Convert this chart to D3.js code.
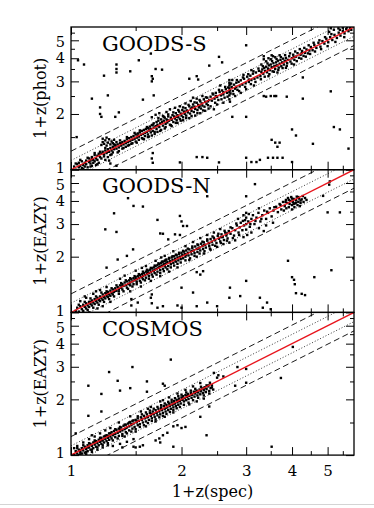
<!DOCTYPE html>
<head>
    <meta charset="utf-8">
    <script src="https://d3js.org/d3.v7.min.js"></script>
    <style>
        body { margin: 0; background: #fff; }
        text { font-family: "DejaVu Serif", serif; }
    </style>
</head>
<body>
<svg width="374" height="508"></svg>

<script>

    // axis ticks (1+z, log scale)
    var majorTicks = [1, 2, 3, 4, 5];
    var minorTicks = [1.5, 2.5, 3.5, 4.5, 5.5];

    // reference lines: offsets in log10(1+z)
    var dottedOffsets = [0.05, -0.05];
    var dashedOffsets = [0.1, -0.1];

    // GOODS-S: [1+z(spec), 1+z(phot)]
    var goodsSBand = [
        [1.02,1.04],[1.03,1.0],[1.04,1.07],[1.05,1.03],[1.05,1.09],[1.06,1.05],[1.07,1.02],[1.07,1.11],[1.08,1.06],[1.09,1.09],[1.09,1.04],[1.10,1.12],[1.10,1.07],[1.11,1.03],[1.12,1.10],[1.12,1.15],[1.13,1.08],[1.13,1.12],[1.14,1.05],[1.14,1.17],[1.15,1.13],[1.15,1.09],[1.16,1.20],[1.16,1.11],[1.17,1.15],[1.17,1.06],[1.18,1.19],[1.18,1.13],[1.19,1.22],[1.19,1.09],[1.20,1.17],[1.20,1.25],
        [1.21,1.36],[1.22,1.41],[1.23,1.38],[1.24,1.44],[1.25,1.35],[1.26,1.40],[1.27,1.46],[1.28,1.37],[1.29,1.42],[1.30,1.39],[1.31,1.45],[1.32,1.36],[1.33,1.41],[1.22,1.47],[1.25,1.49],
        [1.21,1.15],[1.23,1.18],[1.24,1.13],[1.26,1.17],[1.28,1.20],[1.27,1.12],[1.28,1.08],[1.33,1.05],
        [1.21,1.22],[1.22,1.25],[1.23,1.21],[1.24,1.27],[1.25,1.23],[1.26,1.29],[1.27,1.25],[1.28,1.31],[1.29,1.27],[1.30,1.24],[1.30,1.33],[1.31,1.29],[1.32,1.35],[1.33,1.30],[1.34,1.37],[1.35,1.32],[1.35,1.26],[1.36,1.39],[1.37,1.35],[1.38,1.41],[1.38,1.30],[1.39,1.37],[1.40,1.43],[1.41,1.39],[1.41,1.33],[1.42,1.46],[1.43,1.41],[1.44,1.48],[1.44,1.36],[1.45,1.43],[1.46,1.50],[1.47,1.45],[1.47,1.39],[1.48,1.52],[1.49,1.47],[1.50,1.55],[1.50,1.42],[1.51,1.49],[1.52,1.57],[1.53,1.51],[1.53,1.45],[1.54,1.59],[1.55,1.54],[1.56,1.48],[1.56,1.62],[1.57,1.56],[1.58,1.64],[1.59,1.52],[1.59,1.58],[1.60,1.66],
        [1.61,1.60],[1.62,1.68],[1.62,1.55],[1.63,1.63],[1.64,1.71],[1.65,1.59],[1.65,1.66],[1.66,1.74],[1.67,1.62],[1.68,1.69],[1.68,1.78],[1.69,1.56],[1.70,1.72],[1.71,1.81],[1.71,1.66],[1.72,1.75],[1.73,1.84],[1.74,1.70],[1.75,1.78],[1.76,1.87],[1.76,1.64],[1.77,1.81],[1.78,1.73],[1.79,1.84],[1.80,1.91],[1.81,1.77],[1.82,1.87],[1.83,1.80],[1.84,1.94],[1.85,1.84],[1.86,1.75],[1.87,1.91],[1.88,1.86],[1.89,1.97],[1.90,1.81],[1.91,1.94],[1.92,1.89],[1.93,2.02],[1.94,1.85],[1.95,1.97],[1.96,1.92],[1.97,2.06],[1.98,1.88],[1.99,2.01],[2.00,1.96],[2.01,2.10],[2.02,1.92],[2.03,2.05],[2.04,2.00],[2.05,2.15],[2.06,1.96],[2.07,2.09],[2.08,2.04],[2.10,2.20],[2.11,2.01],[2.12,2.14],[2.13,2.08],[2.15,2.25],[2.16,2.05],[2.17,2.19],[2.18,2.13],[2.20,2.30],[2.21,2.10],[2.22,2.24],[2.23,2.17],[2.25,2.34],[2.26,2.14],[2.27,2.28],[2.28,2.22],[2.30,2.40],[2.31,2.19],[2.32,2.33],[2.34,2.27],[2.35,2.45],[2.36,2.23],[2.38,2.38],
        [1.66,1.92],[1.70,1.98],[1.74,2.02],[1.78,1.95],[1.82,2.05],[1.86,2.12],[1.92,2.16],[1.98,2.20],[2.05,2.28],[2.12,2.35],[2.20,2.42],[2.28,2.50],[2.15,2.45],
        [1.58,1.46],[1.62,1.50],[1.66,1.53],[1.72,1.60],[1.80,1.67],[1.88,1.72],[1.95,1.79],[2.02,1.85],[2.10,1.90],[2.18,1.96],[2.25,2.02],[2.32,2.08],[2.40,2.20],[2.45,2.12],
        [2.40,2.48],[2.42,2.36],[2.44,2.55],[2.46,2.42],[2.48,2.60],[2.50,2.47],[2.52,2.38],[2.54,2.63],[2.56,2.52],[2.58,2.68],[2.60,2.55],[2.62,2.45],[2.64,2.72],[2.66,2.60],[2.68,2.78],[2.70,2.40],[2.70,2.52],[2.70,2.62],[2.70,2.75],[2.70,2.85],[2.70,2.95],[2.70,3.05],[2.71,2.33],[2.71,2.68],[2.71,2.90],[2.72,2.58],[2.74,2.80],[2.76,2.66],[2.78,2.88],[2.80,2.74],[2.82,2.95],[2.84,2.70],[2.86,2.98],[2.88,2.82],[2.90,3.04],[2.93,2.88],[2.96,3.10],[2.99,2.93],[3.02,3.18],[3.05,2.98],[3.08,3.22],[3.10,3.05],[3.13,3.30],[3.16,3.10],[3.19,3.35],[3.22,3.15],[3.25,3.42],[3.28,3.20],
        [2.60,2.30],[2.80,2.50],[3.00,2.72],[2.50,2.25],[2.90,2.60],[3.15,2.85],[2.55,2.85],[2.75,3.05],[2.95,3.25],[3.10,3.45],
        [3.30,3.38],[3.32,3.48],[3.34,3.30],[3.36,3.55],[3.38,3.42],[3.40,3.60],[3.42,3.36],[3.44,3.52],[3.46,3.66],[3.48,3.45],[3.50,3.70],[3.52,3.58],[3.54,3.40],[3.56,3.76],[3.58,3.62],[3.60,3.50],[3.62,3.80],[3.64,3.66],[3.66,3.88],[3.68,3.56],[3.70,3.74],[3.72,3.92],[3.74,3.62],[3.76,3.80],[3.78,3.98],[3.80,3.70],[3.82,3.86],[3.85,4.02],[3.88,3.76],[3.90,3.92],[3.93,4.10],[3.96,3.84],[4.00,4.00],[4.03,4.18],[4.06,3.92],[4.10,4.08],[4.14,4.26],[4.18,4.02],[4.22,4.18],[4.26,4.38],[4.30,4.12],[4.34,4.28],[4.38,4.46],[4.42,4.25],[4.46,4.40],
        [3.30,3.70],[3.40,3.85],[3.50,3.95],[3.60,4.05],[3.70,4.15],[3.45,3.20],[3.65,3.35],[3.85,3.55],[4.05,3.70],[3.55,4.10],[3.35,3.95],[3.35,4.1],[3.45,4.0],[3.52,4.15],
        [4.50,4.60],[4.55,4.42],[4.60,4.72],[4.66,4.55],[4.72,4.85],[4.78,4.62],[4.84,4.95],[4.90,4.80],[4.96,5.10],[5.02,4.88],[5.08,5.20],[5.15,5.02],[5.22,5.35],[5.30,5.15],[5.36,5.50],[5.42,5.30],[5.50,5.62],[5.56,5.45],[5.62,5.75],[5.70,5.60],[5.76,5.82],[5.80,5.70],
        [5.05,5.55],[5.20,5.70],[5.35,5.80],[5.50,5.85],[5.65,5.88],[5.10,5.82]
    ];
    var goodsSFill = [
        [1.03,1.08],[1.06,1.13],[1.08,1.01],[1.11,1.16],[1.13,1.04],[1.16,1.23],[1.18,1.07],[1.24,1.31],[1.29,1.21],[1.31,1.37],[1.34,1.24],[1.36,1.44],[1.39,1.31],[1.42,1.50],[1.43,1.35],[1.46,1.38],[1.49,1.58],[1.51,1.40],[1.54,1.63],[1.57,1.47],[1.61,1.70],[1.63,1.51],[1.67,1.75],[1.69,1.60],[1.73,1.90],[1.75,1.62],[1.79,1.93],[1.81,1.70],[1.84,1.99],[1.87,1.74],[1.90,2.04],[1.93,1.79],[1.96,2.10],[1.99,1.84],[2.02,2.17],[2.06,1.90],[2.09,2.24],[2.13,1.95],[2.17,2.31],[2.21,2.02],[2.24,2.38],[2.29,2.09],[2.33,2.46],[2.37,2.14],[2.43,2.58],[2.47,2.30],[2.53,2.70],[2.57,2.40],[2.63,2.80],[2.67,2.48],[2.73,2.92],[2.77,2.56],[2.83,3.05],[2.87,2.66],[2.94,3.15],[2.98,2.80],[3.04,3.28],[3.09,2.90],[3.14,3.40],[3.18,2.98],[3.24,3.52],[3.29,3.08],[3.33,3.62],[3.37,3.18],[3.43,3.75],[3.47,3.28],[3.53,3.86],[3.57,3.38],[3.63,3.96],[3.67,3.46],[3.73,4.06],[3.77,3.54],[3.83,4.16],[3.87,3.64],[3.95,4.25],[3.99,3.74],[4.08,4.35],[4.12,3.86],[4.20,4.48],[4.24,3.98],[4.32,4.55],[4.36,4.08],[4.44,4.70],[4.48,4.22],[4.58,4.85],[4.62,4.35],[4.75,5.00],[4.80,4.48],[4.92,5.20],[5.00,4.65],[5.12,5.40],[5.25,4.90],[5.40,5.70],[5.55,5.20],
        [1.52,1.53],[1.64,1.65],[1.72,1.72],[1.83,1.85],[1.94,1.93],[2.04,2.06],[2.14,2.17],[2.24,2.21],[2.36,2.34],[2.48,2.50],[2.60,2.62],[2.82,2.80],[3.05,3.07],[3.45,3.48],[3.62,3.64],[3.84,3.88],[4.04,4.06],[4.25,4.26],[1.37,1.38],[1.26,1.25],[1.14,1.14]
    ];
    var goodsSOut = [
        [1.045,3.9],[1.085,3.7],[1.23,3.22],[1.33,3.7],[1.33,3.5],[1.33,3.35],[1.45,3.4],[1.53,3.9],[1.65,4.24],[1.66,3.2],[1.67,3.1],[1.66,3.0],[1.70,3.5],[1.77,3.47],[1.14,2.42],[1.26,2.52],[1.2,2.17],[1.2,2.0],[1.21,1.93],[1.32,1.93],[1.35,2.04],[1.57,2.39],[1.68,2.52],[2.1,3.1],[2.2,3.2],[2.22,3.07],[2.38,3.65],[2.53,4.07],[2.58,3.8],[3.0,4.7],
        [1.036,1.5],[1.67,1.23],[1.66,1.15],[1.67,1.09],[2.2,1.17],[2.28,1.17],[2.35,1.16],[1.98,1.095],[2.53,1.095],[2.75,1.93],[3.0,1.93],[3.35,2.5],[3.4,2.48],[3.5,2.5],[3.58,2.5],[3.62,2.5],[3.87,2.48],[4.0,1.65],[4.1,1.53],[3.52,1.45],[3.6,1.4],[3.7,1.4],[3.65,1.33],[4.28,2.42],[4.28,3.15],[5.1,2.65],[5.2,1.7],[5.4,1.65],[5.7,1.3],[4.56,1.38],[3.55,1.16],[3.65,1.16],[3.77,1.16],[3.0,1.16],[3.1,1.1],[3.2,1.1],[3.27,1.13],[4.0,1.1],[3.44,1.16]
    ];

    // GOODS-N: [1+z(spec), 1+z(EAZY)]
    var goodsNBand = [
        [1.03,1.02],[1.04,1.06],[1.05,1.01],[1.06,1.08],[1.07,1.04],[1.08,1.10],[1.08,1.02],[1.09,1.07],[1.10,1.12],[1.10,1.05],[1.11,1.09],[1.12,1.14],[1.12,1.07],[1.13,1.11],[1.14,1.16],[1.14,1.09],[1.15,1.13],[1.16,1.18],[1.16,1.11],[1.17,1.15],[1.18,1.20],[1.18,1.13],[1.19,1.17],[1.20,1.22],[1.20,1.15],[1.21,1.19],[1.22,1.25],[1.22,1.17],[1.23,1.21],[1.24,1.27],[1.24,1.19],[1.25,1.23],[1.26,1.29],[1.26,1.21],[1.27,1.25],[1.28,1.31],[1.28,1.23],[1.29,1.27],[1.30,1.33],[1.30,1.25],
        [1.06,1.15],[1.10,1.20],[1.15,1.26],[1.20,1.32],[1.25,1.37],[1.12,1.00],[1.18,1.05],[1.22,1.08],[1.28,1.14],[1.09,1.22],[1.17,1.30],
        [1.31,1.29],[1.32,1.35],[1.33,1.31],[1.34,1.37],[1.35,1.30],[1.35,1.34],[1.36,1.40],[1.37,1.36],[1.38,1.42],[1.38,1.33],[1.39,1.39],[1.40,1.45],[1.41,1.40],[1.42,1.36],[1.42,1.47],[1.43,1.42],[1.44,1.49],[1.45,1.40],[1.45,1.45],[1.46,1.51],[1.47,1.47],[1.48,1.42],[1.48,1.53],[1.49,1.49],[1.50,1.55],[1.51,1.46],[1.51,1.51],[1.52,1.57],[1.53,1.53],[1.54,1.48],[1.54,1.59],[1.55,1.55],[1.56,1.61],[1.57,1.51],[1.57,1.57],[1.58,1.63],[1.59,1.59],[1.60,1.54],[1.60,1.66],[1.61,1.61],[1.62,1.68],[1.63,1.57],[1.63,1.63],[1.64,1.70],[1.65,1.65],[1.66,1.60],[1.66,1.73],[1.67,1.68],[1.68,1.75],[1.69,1.63],[1.69,1.70],[1.70,1.78],[1.71,1.72],[1.72,1.66],[1.72,1.80],[1.73,1.74],[1.74,1.83],[1.75,1.69],[1.75,1.77],[1.76,1.85],[1.77,1.79],[1.78,1.72],[1.78,1.88],[1.79,1.82],[1.80,1.90],[1.81,1.75],[1.81,1.84],[1.82,1.93],[1.83,1.87],[1.84,1.78],[1.85,1.95],[1.86,1.89],[1.87,1.82],[1.88,1.98],[1.89,1.92],[1.90,1.85],[1.91,2.01],[1.92,1.95],[1.93,1.88],[1.94,2.04],[1.95,1.98],[1.96,1.91],[1.97,2.07],[1.98,2.00],[1.99,1.94],[2.00,2.10],
        [1.40,1.58],[1.50,1.68],[1.60,1.78],[1.70,1.90],[1.80,2.02],[1.90,2.14],[1.45,1.30],[1.55,1.38],[1.65,1.48],[1.75,1.57],[1.85,1.66],[1.95,1.75],[1.36,1.52],[1.56,1.74],[1.76,1.98],
        [2.01,2.04],[2.02,1.96],[2.03,2.13],[2.04,2.07],[2.05,2.00],[2.06,2.16],[2.08,2.10],[2.09,2.03],[2.10,2.19],[2.12,2.13],[2.13,2.06],[2.14,2.23],[2.16,2.16],[2.17,2.09],[2.18,2.27],[2.20,2.20],[2.21,2.12],[2.22,2.31],[2.24,2.24],[2.25,2.16],[2.26,2.35],[2.28,2.28],[2.29,2.20],[2.30,2.39],[2.32,2.32],[2.33,2.24],[2.35,2.44],[2.37,2.36],[2.38,2.28],[2.40,2.49],[2.42,2.41],[2.43,2.32],[2.45,2.53],[2.47,2.45],[2.49,2.37],[2.51,2.59],[2.53,2.50],[2.55,2.42],[2.57,2.64],[2.59,2.55],[2.61,2.46],[2.63,2.70],[2.65,2.60],[2.67,2.51],[2.69,2.75],
        [2.05,2.28],[2.15,2.40],[2.25,2.52],[2.35,2.62],[2.45,2.70],[2.55,2.82],[2.10,1.92],[2.20,2.00],[2.30,2.08],[2.40,2.18],[2.50,2.26],[2.60,2.34],
        [2.72,2.66],[2.75,2.85],[2.78,2.60],[2.80,2.78],[2.83,2.95],[2.86,2.70],[2.88,2.88],[2.90,3.05],[2.93,2.78],[2.96,2.95],[2.98,3.15],[3.00,2.80],[3.00,3.00],[3.00,3.25],[3.00,3.45],[3.02,2.62],[3.04,3.10],[3.07,2.90],[3.10,3.20],[3.13,3.35],[3.16,3.00],[3.20,3.25],[3.24,3.45],[3.28,3.10],[3.32,3.35],[3.36,3.55],[3.40,3.20],[3.44,3.45],[3.48,3.65],[3.52,3.30],[3.56,3.55],
        [2.80,2.45],[2.95,2.55],[3.10,2.70],[3.25,2.85],[3.40,2.95],[2.70,2.38],[3.55,3.05],[3.35,2.75],[2.85,3.20],[3.05,3.40],[3.25,3.65],[2.95,3.35],
        [3.62,3.72],[3.66,3.48],[3.70,3.85],[3.74,3.60],[3.78,3.95],[3.80,3.55],[3.82,3.75],[3.85,4.05],[3.86,3.65],[3.88,3.90],[3.90,4.15],[3.92,3.70],[3.94,3.85],[3.96,4.00],[3.98,4.20],[4.00,3.60],[4.00,3.80],[4.02,3.95],[4.04,4.10],[4.06,3.70],[4.08,3.88],[4.10,4.05],[4.12,4.22],[4.14,3.80],[4.16,3.96],[4.18,4.12],[4.20,3.75],[4.22,3.90],[4.25,4.08],[4.28,4.25],[4.30,3.95],[4.34,4.15],[4.38,4.05]
    ];
    var goodsNFill = [
        [1.05,1.10],[1.09,1.14],[1.11,1.03],[1.13,1.19],[1.15,1.06],[1.17,1.22],[1.19,1.10],[1.21,1.28],[1.23,1.14],[1.25,1.30],[1.27,1.18],[1.29,1.35],[1.31,1.22],[1.33,1.40],[1.35,1.26],[1.37,1.44],[1.39,1.30],[1.41,1.49],[1.43,1.34],[1.45,1.53],[1.47,1.38],[1.49,1.57],[1.51,1.42],[1.53,1.61],[1.55,1.45],[1.57,1.66],[1.59,1.49],[1.61,1.70],[1.63,1.52],[1.65,1.74],[1.67,1.56],[1.69,1.79],[1.71,1.60],[1.73,1.84],[1.75,1.63],[1.77,1.88],[1.79,1.67],[1.81,1.92],[1.83,1.71],[1.85,1.97],[1.87,1.75],[1.89,2.01],[1.91,1.79],[1.93,2.05],[1.95,1.83],[1.97,2.10],[1.99,1.86],[2.02,2.15],[2.05,1.91],[2.08,2.21],[2.11,1.96],[2.14,2.27],[2.17,2.02],[2.21,2.33],[2.24,2.08],[2.28,2.41],[2.31,2.14],[2.35,2.48],[2.39,2.21],[2.43,2.57],[2.47,2.29],[2.52,2.66],[2.56,2.37],[2.62,2.76],[2.66,2.44],[2.72,2.88],[2.76,2.52],[2.82,3.02],[2.87,2.62],[2.94,3.12],[3.08,3.00],[3.18,3.12],[3.30,3.20],[3.42,3.50],[3.58,3.70],[3.72,3.80],[3.84,3.95],[3.92,4.05],[4.00,4.12],[4.04,3.85],[4.10,3.92],[4.16,4.20],[4.22,4.02],
        [1.13,1.14],[1.19,1.18],[1.25,1.26],[1.32,1.31],[1.38,1.39],[1.44,1.43],[1.50,1.51],[1.56,1.55],[1.62,1.63],[1.68,1.67],[1.74,1.75],[1.80,1.79],[1.86,1.87],[1.92,1.91],[1.98,1.99],[2.06,2.05],[2.14,2.15],[2.22,2.21],[2.30,2.31],[2.38,2.37],[2.46,2.47],[2.56,2.55],[2.66,2.67]
    ];
    var goodsNOut = [
        [1.31,3.43],[1.24,2.81],[1.33,2.72],[1.25,1.745],[1.34,1.93],[1.43,4.14],[1.48,3.76],[1.57,3.73],[1.476,2.19],[1.42,2.02],[1.72,3.16],[1.75,2.67],[1.78,2.66],[1.84,2.48],[1.98,3.32],[2.0,3.1],[2.02,2.93],[2.07,2.93],[1.92,2.64],[1.98,2.62],[2.35,4.24],[3.0,4.24],[3.17,4.93],[2.25,1.6],[2.29,1.67],[2.0,1.36],[2.15,1.28],[1.66,1.25],[1.65,1.2],[2.71,1.36],[2.89,1.225],[3.0,1.48],[3.27,1.2],[3.42,1.13],[3.9,1.9],[4.0,1.55],[4.05,1.5],[4.07,1.42],[4.1,1.27],[4.25,1.26],[4.34,1.24],[4.6,1.55],[5.12,1.69],[5.88,1.96],[5.0,3.47],[5.4,3.47],[5.07,5.1],[5.05,4.9],[4.86,4.26],[2.2,1.65],
        [1.46,1.18],[1.52,1.13],[1.46,1.09],[1.66,1.12],[1.72,1.06],[1.78,1.08],[1.95,1.09],[2.0,1.06],[2.2,1.08],[2.35,1.13],[2.5,1.08],[2.7,1.2],[3.33,1.06],[3.5,1.04]
    ];

    // COSMOS: [1+z(spec), 1+z(EAZY)]
    var cosmosBand = [
        [1.02,1.01],[1.03,1.05],[1.04,1.02],[1.05,1.07],[1.05,1.00],[1.06,1.04],[1.07,1.09],[1.07,1.02],[1.08,1.06],[1.09,1.11],[1.09,1.03],[1.10,1.08],[1.11,1.13],[1.11,1.05],[1.12,1.10],[1.13,1.15],[1.13,1.07],[1.14,1.12],[1.15,1.17],[1.15,1.09],[1.16,1.14],[1.17,1.19],[1.17,1.11],[1.18,1.16],[1.19,1.21],[1.19,1.13],[1.20,1.18],[1.21,1.24],[1.21,1.15],[1.22,1.20],[1.23,1.26],[1.23,1.17],[1.24,1.22],[1.25,1.28],[1.25,1.19],[1.26,1.24],[1.27,1.31],[1.27,1.21],[1.28,1.26],[1.29,1.33],[1.29,1.23],[1.30,1.28],
        [1.04,1.12],[1.08,1.17],[1.12,1.22],[1.16,1.26],[1.20,1.31],[1.24,1.36],[1.28,1.40],[1.10,1.01],[1.14,1.04],[1.18,1.07],[1.22,1.10],[1.26,1.13],[1.02,1.09],[1.14,1.28],
        [1.31,1.35],[1.32,1.25],[1.32,1.30],[1.33,1.37],[1.34,1.32],[1.35,1.27],[1.35,1.39],[1.36,1.34],[1.37,1.41],[1.38,1.30],[1.38,1.36],[1.39,1.44],[1.40,1.38],[1.41,1.33],[1.41,1.46],[1.42,1.41],[1.43,1.48],[1.44,1.36],[1.44,1.43],[1.45,1.51],[1.46,1.45],[1.47,1.39],[1.47,1.53],[1.48,1.48],[1.49,1.42],[1.50,1.55],[1.51,1.50],[1.52,1.45],[1.52,1.58],[1.53,1.53],[1.54,1.47],[1.55,1.60],[1.56,1.55],[1.57,1.50],[1.58,1.63],[1.59,1.58],[1.60,1.52],[1.61,1.66],[1.62,1.61],[1.63,1.55],[1.64,1.69],[1.65,1.63],[1.66,1.58],[1.67,1.72],[1.68,1.66],[1.69,1.61],[1.70,1.75],[1.71,1.69],[1.72,1.64],[1.73,1.78],[1.74,1.72],[1.75,1.66],[1.76,1.81],[1.77,1.75],[1.78,1.69],[1.79,1.84],[1.80,1.78],[1.81,1.72],[1.82,1.87],[1.83,1.81],[1.84,1.75],[1.85,1.90],[1.86,1.84],[1.87,1.78],[1.88,1.93],[1.89,1.87],[1.90,1.81],[1.91,1.96],[1.92,1.90],[1.93,1.84],[1.94,1.99],[1.95,1.93],[1.96,1.87],[1.97,2.02],[1.98,1.96],[1.99,1.90],[2.00,2.05],
        [1.35,1.50],[1.45,1.62],[1.55,1.72],[1.65,1.82],[1.75,1.95],[1.85,2.05],[1.95,2.15],[1.40,1.26],[1.50,1.34],[1.60,1.43],[1.70,1.52],[1.80,1.61],[1.90,1.70],[1.62,1.78],[1.78,1.98],
        [1.30,1.12],[1.36,1.15],[1.42,1.18],[1.48,1.22],[1.38,1.10],
        [2.01,1.99],[2.02,2.08],[2.03,1.95],[2.04,2.03],[2.05,2.11],[2.06,1.98],[2.07,2.06],[2.08,2.14],[2.09,2.01],[2.10,2.09],[2.12,2.17],[2.13,2.04],[2.14,2.12],[2.16,2.20],[2.17,2.07],[2.18,2.15],[2.20,2.23],[2.21,2.10],[2.22,2.18],[2.24,2.26],[2.25,2.13],[2.26,2.21],[2.28,2.29],[2.29,2.16],[2.30,2.24],[2.32,2.32],[2.33,2.19],[2.34,2.27],[2.36,2.35],[2.38,2.22],[2.40,2.30],[2.42,2.38],[2.44,2.26],
        [2.05,2.25],[2.15,2.35],[2.25,2.45],[2.10,1.88],[2.20,1.95],[2.30,2.02]
    ];
    var cosmosFill = [
        [1.04,1.09],[1.06,1.01],[1.08,1.13],[1.10,1.04],[1.12,1.16],[1.14,1.07],[1.16,1.20],[1.18,1.10],[1.20,1.24],[1.22,1.13],[1.24,1.27],[1.26,1.16],[1.28,1.31],[1.30,1.20],[1.32,1.38],[1.34,1.23],[1.36,1.42],[1.38,1.27],[1.40,1.46],[1.42,1.31],[1.44,1.50],[1.46,1.34],[1.48,1.54],[1.50,1.38],[1.52,1.62],[1.54,1.42],[1.56,1.66],[1.58,1.45],[1.60,1.70],[1.62,1.49],[1.64,1.74],[1.66,1.53],[1.68,1.78],[1.70,1.56],[1.72,1.82],[1.74,1.60],[1.76,1.86],[1.78,1.63],[1.80,1.90],[1.82,1.67],[1.84,1.94],[1.86,1.71],[1.88,1.99],[1.90,1.75],[1.92,2.03],[1.94,1.79],[1.96,2.08],[1.98,1.82],[2.00,2.12],[2.03,1.87],[2.06,2.18],[2.09,1.92],[2.12,2.23],[2.15,1.98],[2.18,2.28],[2.22,2.04],[2.26,2.34],[2.30,2.10],[2.34,2.38],[2.38,2.15],[2.42,2.32],
        [1.06,1.06],[1.11,1.10],[1.16,1.17],[1.21,1.20],[1.26,1.27],[1.31,1.30],[1.36,1.37],[1.41,1.40],[1.46,1.47],[1.51,1.52],[1.56,1.57],[1.61,1.60],[1.66,1.67],[1.71,1.70],[1.76,1.77],[1.81,1.80],[1.86,1.87],[1.91,1.90],[1.96,1.97],[2.01,2.02],[2.07,2.08],[2.13,2.12],[2.19,2.20],[2.25,2.24],[2.31,2.32],[2.37,2.38]
    ];
    var cosmosOut = [
        [1.115,2.37],[1.21,2.14],[1.115,1.63],[1.21,1.72],[1.27,2.81],[1.34,2.52],[1.36,2.23],[1.47,2.99],[1.45,2.3],[1.61,2.5],[1.61,2.2],[1.87,3.28],[1.78,2.43],[1.8,2.37],[1.03,1.31],[1.48,1.11],[1.5,1.1],[1.54,1.11],[1.57,1.13],[1.7,1.2],[1.74,1.23],[1.78,1.28],[1.83,1.32],[1.75,1.17],[1.9,1.11],[1.95,1.45],[2.0,1.4],[2.05,1.42],[1.9,1.43],[2.25,1.61],[2.34,1.28],[2.38,1.83],[2.45,2.78],[2.52,2.7],[2.6,2.66],[2.5,2.62],[2.84,2.99],[3.0,2.92],[2.8,2.37],[3.0,2.46],[3.73,2.61],[4.02,3.84],[3.52,1.11],[2.39,2.46]
    ];

    var panels = [
        {name: "GOODS-S", ytitle: "1+z(phot)", points: goodsSBand.concat(goodsSFill, goodsSOut)},
        {name: "GOODS-N", ytitle: "1+z(EAZY)", points: goodsNBand.concat(goodsNFill, goodsNOut)},
        {name: "COSMOS",  ytitle: "1+z(EAZY)", points: cosmosBand.concat(cosmosFill, cosmosOut)}
    ];

    var svg = d3.select("svg");
    var left = 71, right = 354, top0 = 27, ph = 142.7;
    var zmax = 5.9;

    var x = d3.scaleLog().domain([1, zmax]).range([left, right]);

    var line = function(y, k) {
        return d3.line()
            .x(function(d) { return x(d); })
            .y(function(d) { return y(d * k); })([1, zmax]);
    };

    panels.forEach(function(p, i) {
        var top = top0 + i * ph, bottom = top + ph;
        var y = d3.scaleLog().domain([1, zmax]).range([bottom, top]);
        var g = svg.append("g");

        g.append("clipPath").attr("id", "clip" + i)
            .append("rect")
            .attr("x", left).attr("y", top)
            .attr("width", right - left).attr("height", ph);

        var plot = g.append("g").attr("clip-path", "url(#clip" + i + ")");

        // points
        plot.selectAll("rect")
            .data(p.points)
            .enter()
            .append("rect")
            .attr("x", function(d) { return x(d[0]) - 1.2; })
            .attr("y", function(d) { return y(d[1]) - 1.2; })
            .attr("width", 2.4).attr("height", 2.4)
            .attr("fill", "#000");

        // dashed and dotted bands
        dashedOffsets.forEach(function(o) {
            plot.append("path").attr("d", line(y, Math.pow(10, o)))
                .attr("fill", "none").attr("stroke", "#000")
                .attr("stroke-width", 0.9).attr("stroke-dasharray", "6,3.5");
        });
        dottedOffsets.forEach(function(o) {
            plot.append("path").attr("d", line(y, Math.pow(10, o)))
                .attr("fill", "none").attr("stroke", "#222")
                .attr("stroke-width", 0.9).attr("stroke-dasharray", "1,2");
        });

        // one-to-one line
        plot.append("path").attr("d", line(y, 1))
            .attr("fill", "none").attr("stroke", "#e8141c")
            .attr("stroke-width", 1.3);

        // ticks on all four sides
        [[majorTicks, 8], [minorTicks, 4]].forEach(function(t) {
            g.append("g").attr("transform", "translate(0," + bottom + ")")
                .call(d3.axisBottom(x).tickValues(t[0]).tickSize(-t[1]).tickFormat(""));
            g.append("g").attr("transform", "translate(0," + top + ")")
                .call(d3.axisTop(x).tickValues(t[0]).tickSize(-t[1]).tickFormat(""));
            g.append("g").attr("transform", "translate(" + left + ",0)")
                .call(d3.axisLeft(y).tickValues(t[0]).tickSize(-t[1]).tickFormat(""));
            g.append("g").attr("transform", "translate(" + right + ",0)")
                .call(d3.axisRight(y).tickValues(t[0]).tickSize(-t[1]).tickFormat(""));
        });
        g.selectAll(".domain").remove();
        g.selectAll(".tick line").attr("stroke", "#000").attr("stroke-width", 1);

        // y labels ("1" nudged up, "5" down so neighbours do not collide)
        g.append("g").attr("transform", "translate(" + left + ",0)")
            .call(d3.axisLeft(y).tickValues(majorTicks).tickSize(0).tickPadding(6).tickFormat(d3.format("d")))
            .call(function(a) { a.select(".domain").remove(); })
            .attr("font-family", "DejaVu Serif").attr("font-size", 14.5)
            .selectAll("text")
            .attr("fill", "#000")
            .attr("dy", function(d) { return d === 1 ? "0.18em" : d === 5 ? "0.44em" : "0.32em"; });

        // frame
        g.append("rect")
            .attr("x", left).attr("y", top)
            .attr("width", right - left).attr("height", ph)
            .attr("fill", "none").attr("stroke", "#000").attr("stroke-width", 1.3);

        g.append("text")
            .attr("x", 102).attr("y", top + 23.5)
            .attr("font-size", 21)
            .text(p.name);

        g.append("text")
            .attr("transform", "translate(45.5," + (top + ph / 2) + ") rotate(-90)")
            .attr("text-anchor", "middle")
            .attr("font-size", 16)
            .text(p.ytitle);

        if (i === panels.length - 1) {
            g.append("g").attr("transform", "translate(0," + bottom + ")")
                .call(d3.axisBottom(x).tickValues(majorTicks).tickSize(0).tickPadding(10).tickFormat(d3.format("d")))
                .call(function(a) { a.select(".domain").remove(); })
                .attr("font-family", "DejaVu Serif").attr("font-size", 15)
                .selectAll("text").attr("fill", "#000");

            g.append("text")
                .attr("x", (left + right) / 2).attr("y", bottom + 42)
                .attr("text-anchor", "middle")
                .attr("font-size", 16)
                .text("1+z(spec)");
        }
    });

    // light rule along the bottom edge
    svg.append("line")
        .attr("x1", 0).attr("x2", 374)
        .attr("y1", 504.5).attr("y2", 504.5)
        .attr("stroke", "#d4d4d4").attr("stroke-width", 1.2);

</script>
</body>
